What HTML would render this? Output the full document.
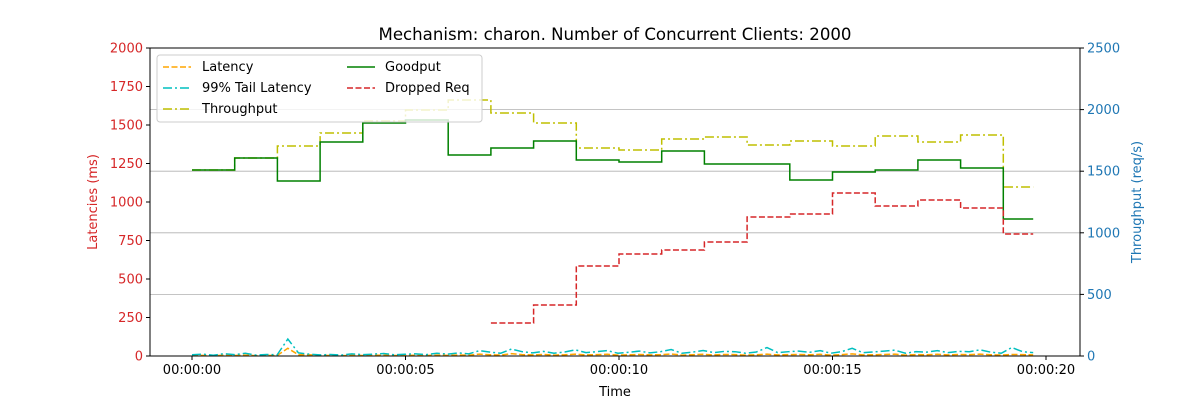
<!DOCTYPE html>
<html><head><meta charset="utf-8"><style>
body{margin:0;background:#fff;}
svg{font-family:"DejaVu Sans","Liberation Sans",sans-serif;}
</style></head><body>
<svg id="chart" width="1200" height="400" xmlns="http://www.w3.org/2000/svg">
<text x="615" y="40" text-anchor="middle" font-size="16.6">Mechanism: charon. Number of Concurrent Clients: 2000</text>
<g id="grid"></g><g id="series"></g><g id="axes"></g>
</svg>
<script>
const stepTimes=[0,1,2,3,4,5,6,7,8,9,10,11,12,13,14,15,16,17,18,19,19.7];
const throughput=[1510,1607,1705,1810,1907,1997,2078,1972,1891,1688,1672,1761,1778,1713,1745,1705,1786,1737,1794,1372];
const goodput=[1510,1607,1420,1737,1891,1916,1631,1688,1745,1591,1575,1664,1558,1558,1429,1494,1510,1591,1526,1112];
const dropped=[null,null,null,null,null,null,null,268,414,731,828,860,925,1128,1153,1323,1218,1266,1201,990];
const latency=[3,4,2,5,3,6,2,4,3,50,8,8,3,4,2,5,3,4,6,3,4,5,3,6,4,7,5,12,8,6,15,9,7,10,6,8,12,7,9,11,6,8,10,7,9,13,6,8,11,7,10,9,6,8,12,7,9,10,8,11,6,9,14,7,8,10,12,6,9,8,11,7,10,9,12,8,6,10,9,7];
const tail=[8,12,5,15,9,18,6,10,8,110,20,12,7,10,6,14,9,12,16,8,11,14,9,18,12,20,14,35,25,18,45,28,20,30,18,26,40,22,28,35,18,24,32,20,28,42,18,25,36,22,30,28,18,26,55,22,28,32,24,35,18,28,50,22,26,32,38,18,28,25,35,22,30,28,40,25,18,55,28,22];
const latTicks=[0,250,500,750,1000,1250,1500,1750,2000];
const thrTicks=[0,500,1000,1500,2000,2500];
const timeTicks=[0,5,10,15,20];
const timeLabels=["00:00:00","00:00:05","00:00:10","00:00:15","00:00:20"];

const L=150,R=1080,T=48,B=356;
const xs=t=>192+t*(1046-192)/20;
const yl=v=>B-v*(B-T)/2000;
const yr=v=>B-v*(B-T)/2500;
const NS="http://www.w3.org/2000/svg";
function mk(tag,attrs,parent){const e=document.createElementNS(NS,tag);for(const k in attrs)e.setAttribute(k,attrs[k]);parent.appendChild(e);return e;}
const grid=document.getElementById('grid'),series=document.getElementById('series'),axes=document.getElementById('axes');
thrTicks.forEach(v=>{if(v===0||v===2500)return;const l=mk('line',{x1:L,x2:R,y1:yr(v),y2:yr(v),stroke:'#b0b0b0','stroke-width':0.8},grid);

});
function stepPath(vals){let d='',on=false;for(let i=0;i<vals.length;i++){const v=vals[i];if(v==null){on=false;continue;}const x0=xs(stepTimes[i]),x1=xs(stepTimes[i+1]),y=yr(v);d+=(on?'L':'M')+x0+','+y+'L'+x1+','+y;on=true;}return d;}
function linePath(vals){const n=vals.length;return vals.map((v,i)=>(i?'L':'M')+xs(i*19.7/(n-1))+','+yl(v)).join('');}
let p;
p=mk('path',{d:linePath(latency),fill:'none',stroke:'#ffa500','stroke-width':1.5,'stroke-dasharray':'6,2.5'},series);


p=mk('path',{d:linePath(tail),fill:'none',stroke:'#00bfbf','stroke-width':1.5,'stroke-dasharray':'9,3,2,3'},series);


p=mk('path',{d:stepPath(throughput),fill:'none',stroke:'#bfbf00','stroke-width':1.5,'stroke-dasharray':'9,3,2,3'},series);


p=mk('path',{d:stepPath(goodput),fill:'none',stroke:'#008000','stroke-width':1.5},series);


p=mk('path',{d:stepPath(dropped),fill:'none',stroke:'#d62728','stroke-width':1.5,'stroke-dasharray':'6,2.5'},series);


p=mk('rect',{x:L,y:T,width:R-L,height:B-T,fill:'none',stroke:'#000','stroke-width':1},axes);


latTicks.forEach(v=>{const y=yl(v);mk('line',{x1:L-4,x2:L,y1:y,y2:y,stroke:'#000'},axes);
const t=mk('text',{x:L-7,y:y+4.5,'text-anchor':'end','font-size':13,fill:'#d62728'},axes);t.textContent=v;

});
thrTicks.forEach(v=>{const y=yr(v);mk('line',{x1:R,x2:R+4,y1:y,y2:y,stroke:'#000'},axes);
const t=mk('text',{x:R+7,y:y+4.5,'font-size':13,fill:'#1f77b4'},axes);t.textContent=v;

});
timeTicks.forEach((v,i)=>{const x=xs(v);mk('line',{x1:x,x2:x,y1:B,y2:B+4,stroke:'#000'},axes);
const t=mk('text',{x:x,y:B+18,'text-anchor':'middle','font-size':13},axes);t.textContent=timeLabels[i];

});
</script>
<svg style="position:absolute;left:0;top:0" width="1200" height="400">
<text x="615" y="396" text-anchor="middle" font-size="13" font-family="DejaVu Sans,sans-serif">Time</text>
<text transform="translate(97,202) rotate(-90)" text-anchor="middle" font-size="13" fill="#d62728" font-family="DejaVu Sans,sans-serif">Latencies (ms)</text>
<text transform="translate(1141,202) rotate(-90)" text-anchor="middle" font-size="13" fill="#1f77b4" font-family="DejaVu Sans,sans-serif">Throughput (req/s)</text>
<g font-size="13" font-family="DejaVu Sans,sans-serif">
<rect x="157" y="55" width="325" height="67" rx="3" fill="#fff" fill-opacity="0.8" stroke="#ccc"/>
<line x1="163" x2="191" y1="67" y2="67" stroke="#ffa500" stroke-width="1.5" stroke-dasharray="6,2.5"/>
<text x="202" y="71">Latency</text>
<line x1="163" x2="191" y1="88" y2="88" stroke="#00bfbf" stroke-width="1.5" stroke-dasharray="9,3,2,3"/>
<text x="202" y="92">99% Tail Latency</text>
<line x1="163" x2="191" y1="109" y2="109" stroke="#bfbf00" stroke-width="1.5" stroke-dasharray="9,3,2,3"/>
<text x="202" y="113">Throughput</text>
<line x1="347" x2="375" y1="67" y2="67" stroke="#008000" stroke-width="1.5"/>
<text x="385" y="71">Goodput</text>
<line x1="347" x2="375" y1="88" y2="88" stroke="#d62728" stroke-width="1.5" stroke-dasharray="6,2.5"/>
<text x="385" y="92">Dropped Req</text>
</g>
</svg>
</body></html>
